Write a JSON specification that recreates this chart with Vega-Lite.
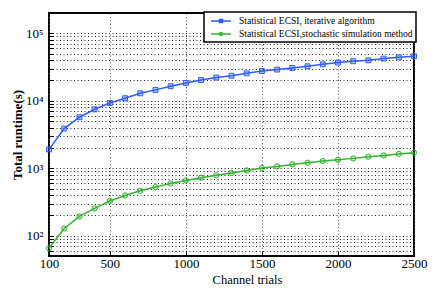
{
  "$schema": "https://vega.github.io/schema/vega-lite/v6.json",
  "width": 365,
  "height": 243,
  "autosize": {"type": "none"},
  "padding": {"left": 49, "top": 13, "right": 22, "bottom": 40},
  "background": "white",
  "config": {
    "view": {"stroke": "black", "strokeWidth": 2},
    "font": "Liberation Serif, Times New Roman, serif",
    "axis": {"labelFont": "Liberation Serif, Times New Roman, serif", "titleFont": "Liberation Serif, Times New Roman, serif", "labelColor": "black", "titleColor": "black", "domain": false, "tickColor": "black"},
    "legend": {"labelFont": "Liberation Serif, Times New Roman, serif"}
  },
  "data": {
    "values": [
      {"trials": 100, "runtime": 1900, "series": "Statistical ECSI, iterative algorithm"},
      {"trials": 200, "runtime": 3870, "series": "Statistical ECSI, iterative algorithm"},
      {"trials": 300, "runtime": 5700, "series": "Statistical ECSI, iterative algorithm"},
      {"trials": 400, "runtime": 7480, "series": "Statistical ECSI, iterative algorithm"},
      {"trials": 500, "runtime": 9270, "series": "Statistical ECSI, iterative algorithm"},
      {"trials": 600, "runtime": 10900, "series": "Statistical ECSI, iterative algorithm"},
      {"trials": 700, "runtime": 12900, "series": "Statistical ECSI, iterative algorithm"},
      {"trials": 800, "runtime": 14500, "series": "Statistical ECSI, iterative algorithm"},
      {"trials": 900, "runtime": 16400, "series": "Statistical ECSI, iterative algorithm"},
      {"trials": 1000, "runtime": 18400, "series": "Statistical ECSI, iterative algorithm"},
      {"trials": 1100, "runtime": 20300, "series": "Statistical ECSI, iterative algorithm"},
      {"trials": 1200, "runtime": 22100, "series": "Statistical ECSI, iterative algorithm"},
      {"trials": 1300, "runtime": 23500, "series": "Statistical ECSI, iterative algorithm"},
      {"trials": 1400, "runtime": 25500, "series": "Statistical ECSI, iterative algorithm"},
      {"trials": 1500, "runtime": 27600, "series": "Statistical ECSI, iterative algorithm"},
      {"trials": 1600, "runtime": 29000, "series": "Statistical ECSI, iterative algorithm"},
      {"trials": 1700, "runtime": 30600, "series": "Statistical ECSI, iterative algorithm"},
      {"trials": 1800, "runtime": 32400, "series": "Statistical ECSI, iterative algorithm"},
      {"trials": 1900, "runtime": 34700, "series": "Statistical ECSI, iterative algorithm"},
      {"trials": 2000, "runtime": 36800, "series": "Statistical ECSI, iterative algorithm"},
      {"trials": 2100, "runtime": 38500, "series": "Statistical ECSI, iterative algorithm"},
      {"trials": 2200, "runtime": 39800, "series": "Statistical ECSI, iterative algorithm"},
      {"trials": 2300, "runtime": 42200, "series": "Statistical ECSI, iterative algorithm"},
      {"trials": 2400, "runtime": 44100, "series": "Statistical ECSI, iterative algorithm"},
      {"trials": 2500, "runtime": 45600, "series": "Statistical ECSI, iterative algorithm"},
      {"trials": 100, "runtime": 65, "series": "Statistical ECSI,stochastic simulation method"},
      {"trials": 200, "runtime": 128, "series": "Statistical ECSI,stochastic simulation method"},
      {"trials": 300, "runtime": 193, "series": "Statistical ECSI,stochastic simulation method"},
      {"trials": 400, "runtime": 254, "series": "Statistical ECSI,stochastic simulation method"},
      {"trials": 500, "runtime": 327, "series": "Statistical ECSI,stochastic simulation method"},
      {"trials": 600, "runtime": 395, "series": "Statistical ECSI,stochastic simulation method"},
      {"trials": 700, "runtime": 464, "series": "Statistical ECSI,stochastic simulation method"},
      {"trials": 800, "runtime": 526, "series": "Statistical ECSI,stochastic simulation method"},
      {"trials": 900, "runtime": 596, "series": "Statistical ECSI,stochastic simulation method"},
      {"trials": 1000, "runtime": 659, "series": "Statistical ECSI,stochastic simulation method"},
      {"trials": 1100, "runtime": 723, "series": "Statistical ECSI,stochastic simulation method"},
      {"trials": 1200, "runtime": 787, "series": "Statistical ECSI,stochastic simulation method"},
      {"trials": 1300, "runtime": 849, "series": "Statistical ECSI,stochastic simulation method"},
      {"trials": 1400, "runtime": 929, "series": "Statistical ECSI,stochastic simulation method"},
      {"trials": 1500, "runtime": 1010, "series": "Statistical ECSI,stochastic simulation method"},
      {"trials": 1600, "runtime": 1064, "series": "Statistical ECSI,stochastic simulation method"},
      {"trials": 1700, "runtime": 1139, "series": "Statistical ECSI,stochastic simulation method"},
      {"trials": 1800, "runtime": 1206, "series": "Statistical ECSI,stochastic simulation method"},
      {"trials": 1900, "runtime": 1279, "series": "Statistical ECSI,stochastic simulation method"},
      {"trials": 2000, "runtime": 1337, "series": "Statistical ECSI,stochastic simulation method"},
      {"trials": 2100, "runtime": 1400, "series": "Statistical ECSI,stochastic simulation method"},
      {"trials": 2200, "runtime": 1483, "series": "Statistical ECSI,stochastic simulation method"},
      {"trials": 2300, "runtime": 1550, "series": "Statistical ECSI,stochastic simulation method"},
      {"trials": 2400, "runtime": 1626, "series": "Statistical ECSI,stochastic simulation method"},
      {"trials": 2500, "runtime": 1700, "series": "Statistical ECSI,stochastic simulation method"}
    ]
  },
  "encoding": {
    "x": {
      "field": "trials", "type": "quantitative",
      "scale": {"domain": [100, 2500], "nice": false, "zero": false},
      "axis": {
        "title": "Channel trials", "titleFontSize": 12.5, "titleFontWeight": "normal",
        "titleX": 198, "titleY": 17, "titleAlign": "center", "titleBaseline": "top", "titleAnchor": "start",
        "values": [100, 500, 1000, 1500, 2000, 2500], "format": "d",
        "labelFontSize": 13, "labelPadding": 6, "labelFlush": false,
        "tickSize": -5, "tickWidth": 1,
        "grid": true, "gridColor": "#555", "gridDash": [1, 2.5], "gridWidth": 1
      }
    },
    "y": {
      "field": "runtime", "type": "quantitative",
      "scale": {"type": "log", "domain": [50, 200000], "nice": false},
      "axis": {
        "title": "Total runtime(s)", "titleFontSize": 13, "titleFontWeight": "bold", "titlePadding": 1,
        "values": [50, 60, 70, 80, 90, 100, 200, 300, 400, 500, 600, 700, 800, 900, 1000, 2000, 3000, 4000, 5000, 6000, 7000, 8000, 9000, 10000, 20000, 30000, 40000, 50000, 60000, 70000, 80000, 90000, 100000, 200000],
        "labelExpr": "abs(log(datum.value)/LN10 - round(log(datum.value)/LN10)) < 1e-6 ? '10' + ['⁰','¹','²','³','⁴','⁵','⁶'][round(log(datum.value)/LN10)] : ''",
        "labelFontSize": 13, "labelPadding": 10, "labelOverlap": false, "labelFlush": false,
        "tickSize": -4, "tickWidth": 1,
        "grid": true, "gridColor": "black", "gridDash": [1, 2.5], "gridWidth": 1, "gridOpacity": 0.85
      }
    }
  },
  "layer": [
    {
      "mark": {"type": "line", "strokeWidth": 1.5},
      "encoding": {
        "color": {
          "field": "series", "type": "nominal",
          "scale": {"domain": ["Statistical ECSI, iterative algorithm", "Statistical ECSI,stochastic simulation method"], "range": ["#2f5cff", "#2fb52f"]},
          "legend": {
            "title": null, "orient": "none", "legendX": 155, "legendY": -1,
            "labelFontSize": 9.5, "labelColor": "black", "labelLimit": 400,
            "strokeColor": "black", "fillColor": "white", "padding": 3,
            "symbolSize": 100, "symbolOffset": 8, "labelOffset": 12, "rowPadding": 2, "symbolStrokeWidth": 1.5,
            "encode": {
              "legend": {"update": {"strokeWidth": {"value": 1.5}}},
              "symbols": {"update": {
                "shape": {"signal": "datum.value === 'Statistical ECSI, iterative algorithm' ? 'M-2,0H2M-0.3,-0.3H0.3V0.3H-0.3Z' : 'M-2,0H2M0.3,0A0.3,0.3 0 1,1 -0.3,0A0.3,0.3 0 1,1 0.3,0Z'"},
                "fill": {"value": "transparent"}
              }}
            }
          }
        }
      }
    },
    {
      "transform": [{"filter": "datum.series === 'Statistical ECSI, iterative algorithm'"}],
      "mark": {"type": "point", "shape": "square", "filled": false, "size": 24, "strokeWidth": 1, "color": "#2f5cff", "fill": "#2f5cff", "fillOpacity": 0.35}
    },
    {
      "transform": [{"filter": "datum.series === 'Statistical ECSI,stochastic simulation method'"}],
      "mark": {"type": "point", "shape": "circle", "filled": false, "size": 28, "strokeWidth": 1, "color": "#2fb52f", "fill": "#2fb52f", "fillOpacity": 0.2}
    }
  ]
}
